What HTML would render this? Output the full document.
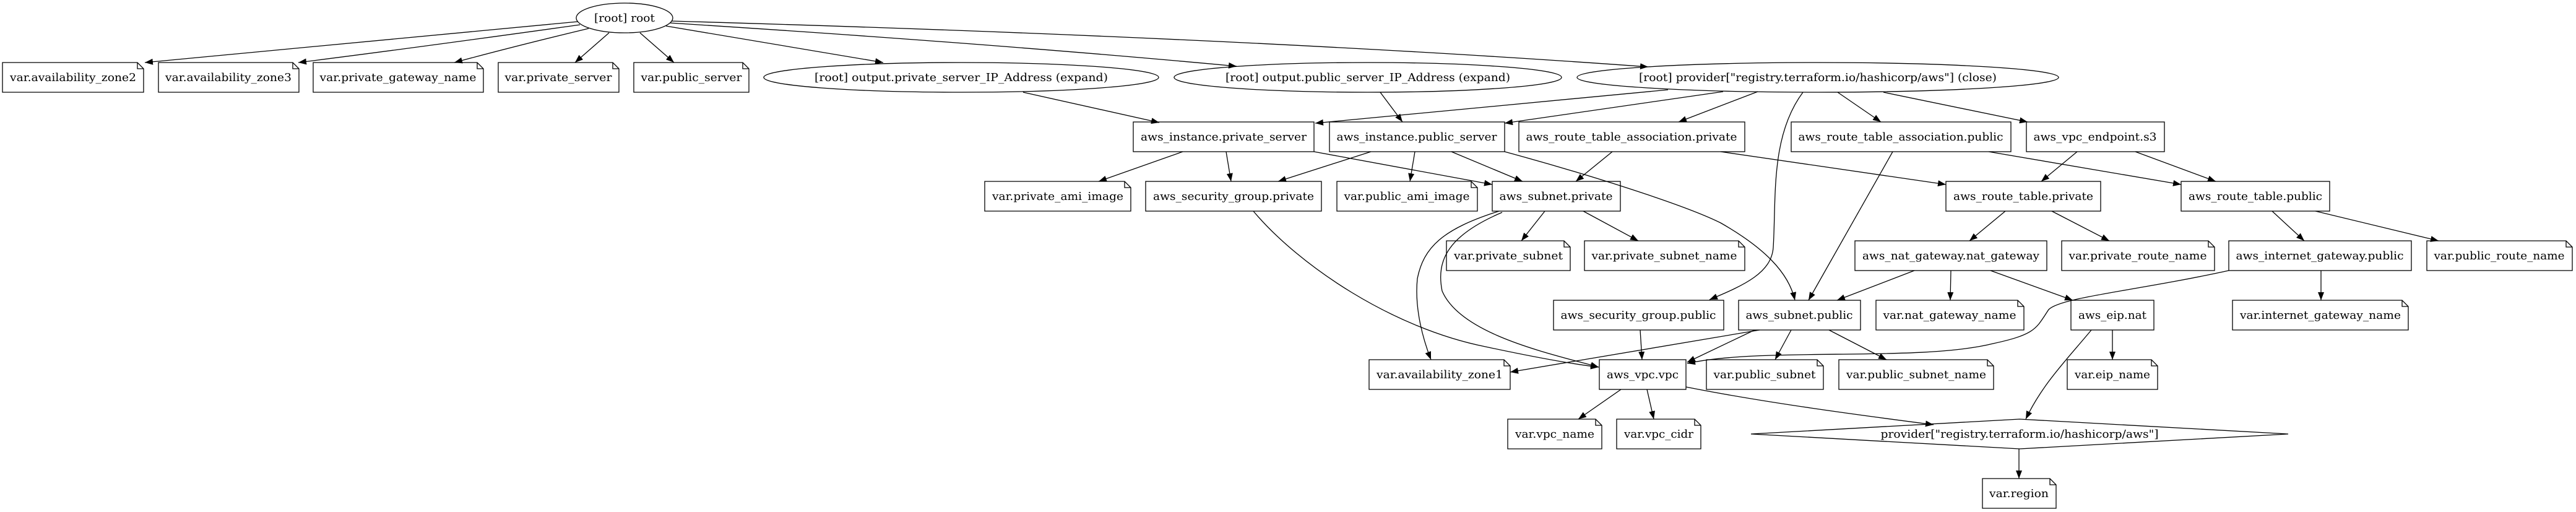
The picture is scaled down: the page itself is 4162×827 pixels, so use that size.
<!DOCTYPE html>
<html><head><meta charset="utf-8"><style>
html,body{margin:0;padding:0;background:#fff;}
svg{display:block;}
text{font-family:"DejaVu Serif","Liberation Serif",serif;font-size:18px;text-anchor:middle;fill:#000;}
.n{fill:none;stroke:#000;stroke-width:1.3;}
.e{fill:none;stroke:#000;stroke-width:1.3;marker-end:url(#a);}
</style></head><body>
<svg width="4162" height="827" viewBox="0 0 4162 827" xmlns="http://www.w3.org/2000/svg">
<defs><marker id="a" markerUnits="userSpaceOnUse" markerWidth="14" markerHeight="10" refX="13" refY="5" orient="auto"><path d="M0,0 L13,5 L0,10 Z" fill="#000"/></marker></defs>

<ellipse class="n" cx="1009" cy="29" rx="78" ry="24"/><text x="1009" y="35" textLength="98" lengthAdjust="spacingAndGlyphs">[root] root</text>
<ellipse class="n" cx="1553" cy="125" rx="319" ry="24"/><text x="1553" y="131" textLength="474" lengthAdjust="spacingAndGlyphs">[root] output.private_server_IP_Address (expand)</text>
<ellipse class="n" cx="2210" cy="125" rx="313" ry="24"/><text x="2210" y="131" textLength="460" lengthAdjust="spacingAndGlyphs">[root] output.public_server_IP_Address (expand)</text>
<ellipse class="n" cx="2937" cy="125" rx="389" ry="24"/><text x="2937" y="131" textLength="578" lengthAdjust="spacingAndGlyphs">[root] provider["registry.terraform.io/hashicorp/aws"] (close)</text>
<polygon class="n" points="2829,701 3263,677 3697,701 3263,725"/><text x="3263" y="707" textLength="449" lengthAdjust="spacingAndGlyphs">provider["registry.terraform.io/hashicorp/aws"]</text>

<g class="n">
<path d="M4,101 H222 L232,111 V149 H4 Z M222,101 V111 H232"/>
<path d="M256,101 H473 L483,111 V149 H256 Z M473,101 V111 H483"/>
<path d="M506,101 H771 L781,111 V149 H506 Z M771,101 V111 H781"/>
<path d="M805,101 H990 L1000,111 V149 H805 Z M990,101 V111 H1000"/>
<path d="M1024,101 H1200 L1210,111 V149 H1024 Z M1200,101 V111 H1210"/>
<path d="M1591,293 H1817 L1827,303 V341 H1591 Z M1817,293 V303 H1827"/>
<path d="M2160,293 H2377 L2387,303 V341 H2160 Z M2377,293 V303 H2387"/>
<path d="M2337,389 H2527 L2537,399 V437 H2337 Z M2527,389 V399 H2537"/>
<path d="M2560,389 H2809 L2819,399 V437 H2560 Z M2809,389 V399 H2819"/>
<path d="M3331,389 H3568 L3578,399 V437 H3331 Z M3568,389 V399 H3578"/>
<path d="M3921,389 H4146 L4156,399 V437 H3921 Z M4146,389 V399 H4156"/>
<path d="M3031,485 H3260 L3270,495 V533 H3031 Z M3260,485 V495 H3270"/>
<path d="M3607,485 H3881 L3891,495 V533 H3607 Z M3881,485 V495 H3891"/>
<path d="M2212,581 H2430 L2440,591 V629 H2212 Z M2430,581 V591 H2440"/>
<path d="M2757,581 H2936 L2946,591 V629 H2757 Z M2936,581 V591 H2946"/>
<path d="M2971,581 H3211 L3221,591 V629 H2971 Z M3211,581 V591 H3221"/>
<path d="M3340,581 H3476 L3486,591 V629 H3340 Z M3476,581 V591 H3486"/>
<path d="M2436,677 H2578 L2588,687 V725 H2436 Z M2578,677 V687 H2588"/>
<path d="M2612,677 H2738 L2748,687 V725 H2612 Z M2738,677 V687 H2748"/>
<path d="M3203,773 H3312 L3322,783 V821 H3203 Z M3312,773 V783 H3322"/>
</g>
<g class="n">
<rect x="1831" y="197" width="292" height="48"/>
<rect x="2148" y="197" width="283" height="48"/>
<rect x="2454" y="197" width="365" height="48"/>
<rect x="2894" y="197" width="355" height="48"/>
<rect x="3274" y="197" width="223" height="48"/>
<rect x="1851" y="293" width="284" height="48"/>
<rect x="2411" y="293" width="207" height="48"/>
<rect x="3144" y="293" width="250" height="48"/>
<rect x="3524" y="293" width="240" height="48"/>
<rect x="2997" y="389" width="310" height="48"/>
<rect x="3601" y="389" width="295" height="48"/>
<rect x="2510" y="485" width="275" height="48"/>
<rect x="2809" y="485" width="197" height="48"/>
<rect x="3346" y="485" width="134" height="48"/>
<rect x="2584" y="581" width="140" height="48"/>
</g>

<g lengthAdjust="spacingAndGlyphs">
<text x="118" y="131" textLength="204" lengthAdjust="spacingAndGlyphs">var.availability_zone2</text>
<text x="369" y="131" textLength="204" lengthAdjust="spacingAndGlyphs">var.availability_zone3</text>
<text x="643" y="131" textLength="253" lengthAdjust="spacingAndGlyphs">var.private_gateway_name</text>
<text x="902" y="131" textLength="173" lengthAdjust="spacingAndGlyphs">var.private_server</text>
<text x="1117" y="131" textLength="163" lengthAdjust="spacingAndGlyphs">var.public_server</text>
<text x="1977" y="227" textLength="268" lengthAdjust="spacingAndGlyphs">aws_instance.private_server</text>
<text x="2289" y="227" textLength="259" lengthAdjust="spacingAndGlyphs">aws_instance.public_server</text>
<text x="2636" y="227" textLength="341" lengthAdjust="spacingAndGlyphs">aws_route_table_association.private</text>
<text x="3071" y="227" textLength="331" lengthAdjust="spacingAndGlyphs">aws_route_table_association.public</text>
<text x="3385" y="227" textLength="199" lengthAdjust="spacingAndGlyphs">aws_vpc_endpoint.s3</text>
<text x="1709" y="323" textLength="212" lengthAdjust="spacingAndGlyphs">var.private_ami_image</text>
<text x="1993" y="323" textLength="260" lengthAdjust="spacingAndGlyphs">aws_security_group.private</text>
<text x="2273" y="323" textLength="203" lengthAdjust="spacingAndGlyphs">var.public_ami_image</text>
<text x="2514" y="323" textLength="183" lengthAdjust="spacingAndGlyphs">aws_subnet.private</text>
<text x="3269" y="323" textLength="226" lengthAdjust="spacingAndGlyphs">aws_route_table.private</text>
<text x="3644" y="323" textLength="216" lengthAdjust="spacingAndGlyphs">aws_route_table.public</text>
<text x="2437" y="419" textLength="176" lengthAdjust="spacingAndGlyphs">var.private_subnet</text>
<text x="2689" y="419" textLength="235" lengthAdjust="spacingAndGlyphs">var.private_subnet_name</text>
<text x="3152" y="419" textLength="286" lengthAdjust="spacingAndGlyphs">aws_nat_gateway.nat_gateway</text>
<text x="3454" y="419" textLength="223" lengthAdjust="spacingAndGlyphs">var.private_route_name</text>
<text x="3748" y="419" textLength="271" lengthAdjust="spacingAndGlyphs">aws_internet_gateway.public</text>
<text x="4038" y="419" textLength="211" lengthAdjust="spacingAndGlyphs">var.public_route_name</text>
<text x="2647" y="515" textLength="251" lengthAdjust="spacingAndGlyphs">aws_security_group.public</text>
<text x="2907" y="515" textLength="173" lengthAdjust="spacingAndGlyphs">aws_subnet.public</text>
<text x="3150" y="515" textLength="215" lengthAdjust="spacingAndGlyphs">var.nat_gateway_name</text>
<text x="3413" y="515" textLength="110" lengthAdjust="spacingAndGlyphs">aws_eip.nat</text>
<text x="3749" y="515" textLength="260" lengthAdjust="spacingAndGlyphs">var.internet_gateway_name</text>
<text x="2326" y="611" textLength="204" lengthAdjust="spacingAndGlyphs">var.availability_zone1</text>
<text x="2654" y="611" textLength="116" lengthAdjust="spacingAndGlyphs">aws_vpc.vpc</text>
<text x="2851" y="611" textLength="165" lengthAdjust="spacingAndGlyphs">var.public_subnet</text>
<text x="3096" y="611" textLength="226" lengthAdjust="spacingAndGlyphs">var.public_subnet_name</text>
<text x="3413" y="611" textLength="122" lengthAdjust="spacingAndGlyphs">var.eip_name</text>
<text x="2512" y="707" textLength="128" lengthAdjust="spacingAndGlyphs">var.vpc_name</text>
<text x="2680" y="707" textLength="112" lengthAdjust="spacingAndGlyphs">var.vpc_cidr</text>
<text x="3262" y="803" textLength="96" lengthAdjust="spacingAndGlyphs">var.region</text>
</g>

<path class="e" d="M933,35 Q500,75 234,101"/>
<path class="e" d="M937,40 Q650,80 482,101"/>
<path class="e" d="M951,46 Q830,75 734,101"/>
<path class="e" d="M984,53 L929,101"/>
<path class="e" d="M1034,53 L1089,101"/>
<path class="e" d="M1076,42 Q1300,80 1427,101"/>
<path class="e" d="M1082,37 Q1600,70 1998,107"/>
<path class="e" d="M1085,34 Q2000,60 2663,108"/>
<path class="e" d="M1653,149 L1873,198"/>
<path class="e" d="M2230,149 L2266,197"/>
<path class="e" d="M2695,145 L2125,199"/>
<path class="e" d="M2784,148 L2431,199"/>
<path class="e" d="M2840,148 L2712,197"/>
<path class="e" d="M2913,149 C2860,220 2870,320 2865,400 C2862,440 2820,460 2762,484"/>
<path class="e" d="M2969,149 L3039,197"/>
<path class="e" d="M3043,149 L3276,197"/>
<path class="e" d="M1911,245 L1775,293"/>
<path class="e" d="M1981,245 L1989,293"/>
<path class="e" d="M2123,245 L2411,298"/>
<path class="e" d="M2215,245 L2065,293"/>
<path class="e" d="M2286,245 L2278,293"/>
<path class="e" d="M2345,245 L2460,293"/>
<path class="e" d="M2431,245 C2560,280 2720,330 2780,360 C2850,400 2890,440 2900,485"/>
<path class="e" d="M2605,245 L2546,293"/>
<path class="e" d="M2780,245 L3144,298"/>
<path class="e" d="M3058,245 L2922,485"/>
<path class="e" d="M3213,245 L3524,298"/>
<path class="e" d="M3356,245 L3298,293"/>
<path class="e" d="M3450,245 L3580,293"/>
<path class="e" d="M2496,341 L2458,389"/>
<path class="e" d="M2558,341 L2647,389"/>
<path class="e" d="M2422,341 C2330,370 2300,400 2290,450 C2285,500 2300,550 2312,581"/>
<path class="e" d="M2427,343 C2340,380 2320,420 2330,470 C2360,540 2500,570 2583,593"/>
<path class="e" d="M2025,341 C2100,430 2250,530 2400,560 C2470,575 2540,588 2583,593"/>
<path class="e" d="M3240,341 L3182,389"/>
<path class="e" d="M3315,341 L3408,389"/>
<path class="e" d="M3671,341 L3723,389"/>
<path class="e" d="M3741,341 L3940,389"/>
<path class="e" d="M3093,437 L2968,485"/>
<path class="e" d="M3152,437 L3151,485"/>
<path class="e" d="M3216,437 L3349,485"/>
<path class="e" d="M3750,437 L3750,485"/>
<path class="e" d="M3601,437 C3450,470 3330,480 3310,500 C3290,530 3290,540 3220,555 C3100,585 2850,560 2726,587"/>
<path class="e" d="M2843,533 L2440,601"/>
<path class="e" d="M2835,533 L2726,585"/>
<path class="e" d="M2894,533 L2868,581"/>
<path class="e" d="M2955,533 L3048,581"/>
<path class="e" d="M2650,533 L2653,581"/>
<path class="e" d="M3413,533 L3413,581"/>
<path class="e" d="M3379,533 C3340,580 3300,620 3273,677"/>
<path class="e" d="M2619,629 L2550,677"/>
<path class="e" d="M2661,629 L2672,677"/>
<path class="e" d="M2724,625 C2850,650 3000,670 3124,686"/>
<path class="e" d="M3262,725 L3262,773"/>
</svg>
</body></html>
